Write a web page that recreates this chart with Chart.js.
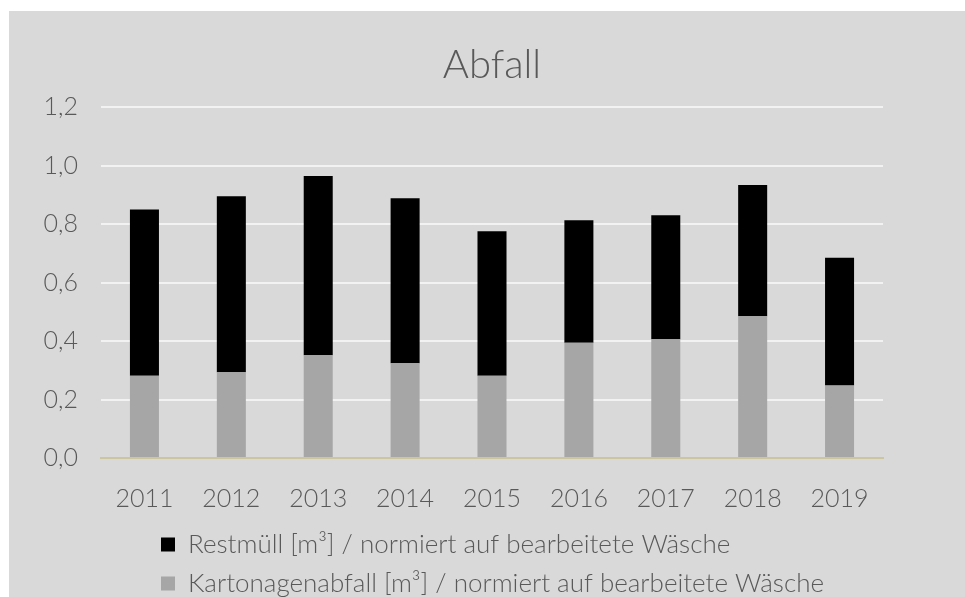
<!DOCTYPE html>
<html lang="de">
<head>
  <meta charset="UTF-8">
  <title>Abfall</title>
  <script src="https://cdn.jsdelivr.net/npm/chart.js"></script>
  <style>
    * { margin: 0; padding: 0; box-sizing: border-box; }
    body { background: #ffffff; width: 965px; height: 597px; overflow: hidden; }
    .card {
      position: absolute;
      left: 9px; top: 11px;
      width: 956px; height: 586px;
      background: #d9d9d9;
    }
  </style>
</head>
<body>
  <div class="card">
    <canvas id="wasteChart" width="956" height="586"></canvas>
  </div>

  <script>
    // values
    const years = ['2011', '2012', '2013', '2014', '2015', '2016', '2017', '2018', '2019'];
    const kartonagen = [0.281, 0.293, 0.351, 0.324, 0.281, 0.394, 0.406, 0.485, 0.248];
    const restmuell = [0.569, 0.602, 0.613, 0.564, 0.494, 0.419, 0.424, 0.448, 0.437];
    const yMax = 1.2;
    const yStep = 0.2;

    const FONT = "Lato, 'DejaVu Sans', sans-serif";
    const TEXT = '#595959';

    // legend rows start left-aligned under the plot, as in the reference
    const legendShift = {
      id: 'legendShift',
      afterLayout(chart) {
        chart.legend.left += 139;
      }
    };

    const ctx = document.getElementById('wasteChart').getContext('2d');
    const wasteChart = new Chart(ctx, {
      type: 'bar',
      data: {
        labels: years,
        datasets: [
          { label: 'Kartonagenabfall [m³] / normiert auf bearbeitete Wäsche', data: kartonagen, backgroundColor: '#a6a6a6', borderWidth: 0 },
          { label: 'Restmüll [m³] / normiert auf bearbeitete Wäsche', data: restmuell, backgroundColor: '#000000', borderWidth: 0 }
        ]
      },
      options: {
        responsive: false,
        animation: false,
        devicePixelRatio: 1,
        layout: { padding: { left: 0, right: 82, top: 0, bottom: -9.5 } },
        datasets: { bar: { barPercentage: 0.334, categoryPercentage: 1 } },
        plugins: {
          title: {
            display: true,
            fullSize: false,
            text: 'Abfall',
            color: TEXT,
            font: { family: FONT, size: 40, weight: '300', lineHeight: 1.2 },
            padding: { top: 30, bottom: 18 }
          },
          legend: {
            display: true,
            position: 'bottom',
            align: 'start',
            reverse: true,
            labels: {
              color: TEXT,
              font: { family: FONT, size: 26, weight: '300' },
              boxWidth: 14,
              boxHeight: 14,
              padding: 13
            }
          },
          tooltip: { enabled: false }
        },
        scales: {
          x: {
            stacked: true,
            grid: { display: false },
            border: { display: true, color: '#cdc4a0', width: 2 },
            ticks: { color: TEXT, font: { family: FONT, size: 25, weight: '300', lineHeight: 1.2 }, padding: 18, maxRotation: 0 },
            afterFit: s => { s.height = 60.5; }
          },
          y: {
            stacked: true,
            min: 0,
            max: yMax,
            border: { display: false },
            grid: {
              drawTicks: false,
              lineWidth: 2,
              color: c => (c.tick && c.tick.value === 0) ? '#cdc4a0' : '#f2f2f2'
            },
            ticks: {
              stepSize: yStep,
              color: TEXT,
              padding: 23,
              font: { family: FONT, size: 25, weight: '300' },
              callback: v => v.toFixed(1).replace('.', ',')
            },
            afterFit: s => { s.width = 92; }
          }
        }
      },
      plugins: [legendShift]
    });
  </script>
</body>
</html>
